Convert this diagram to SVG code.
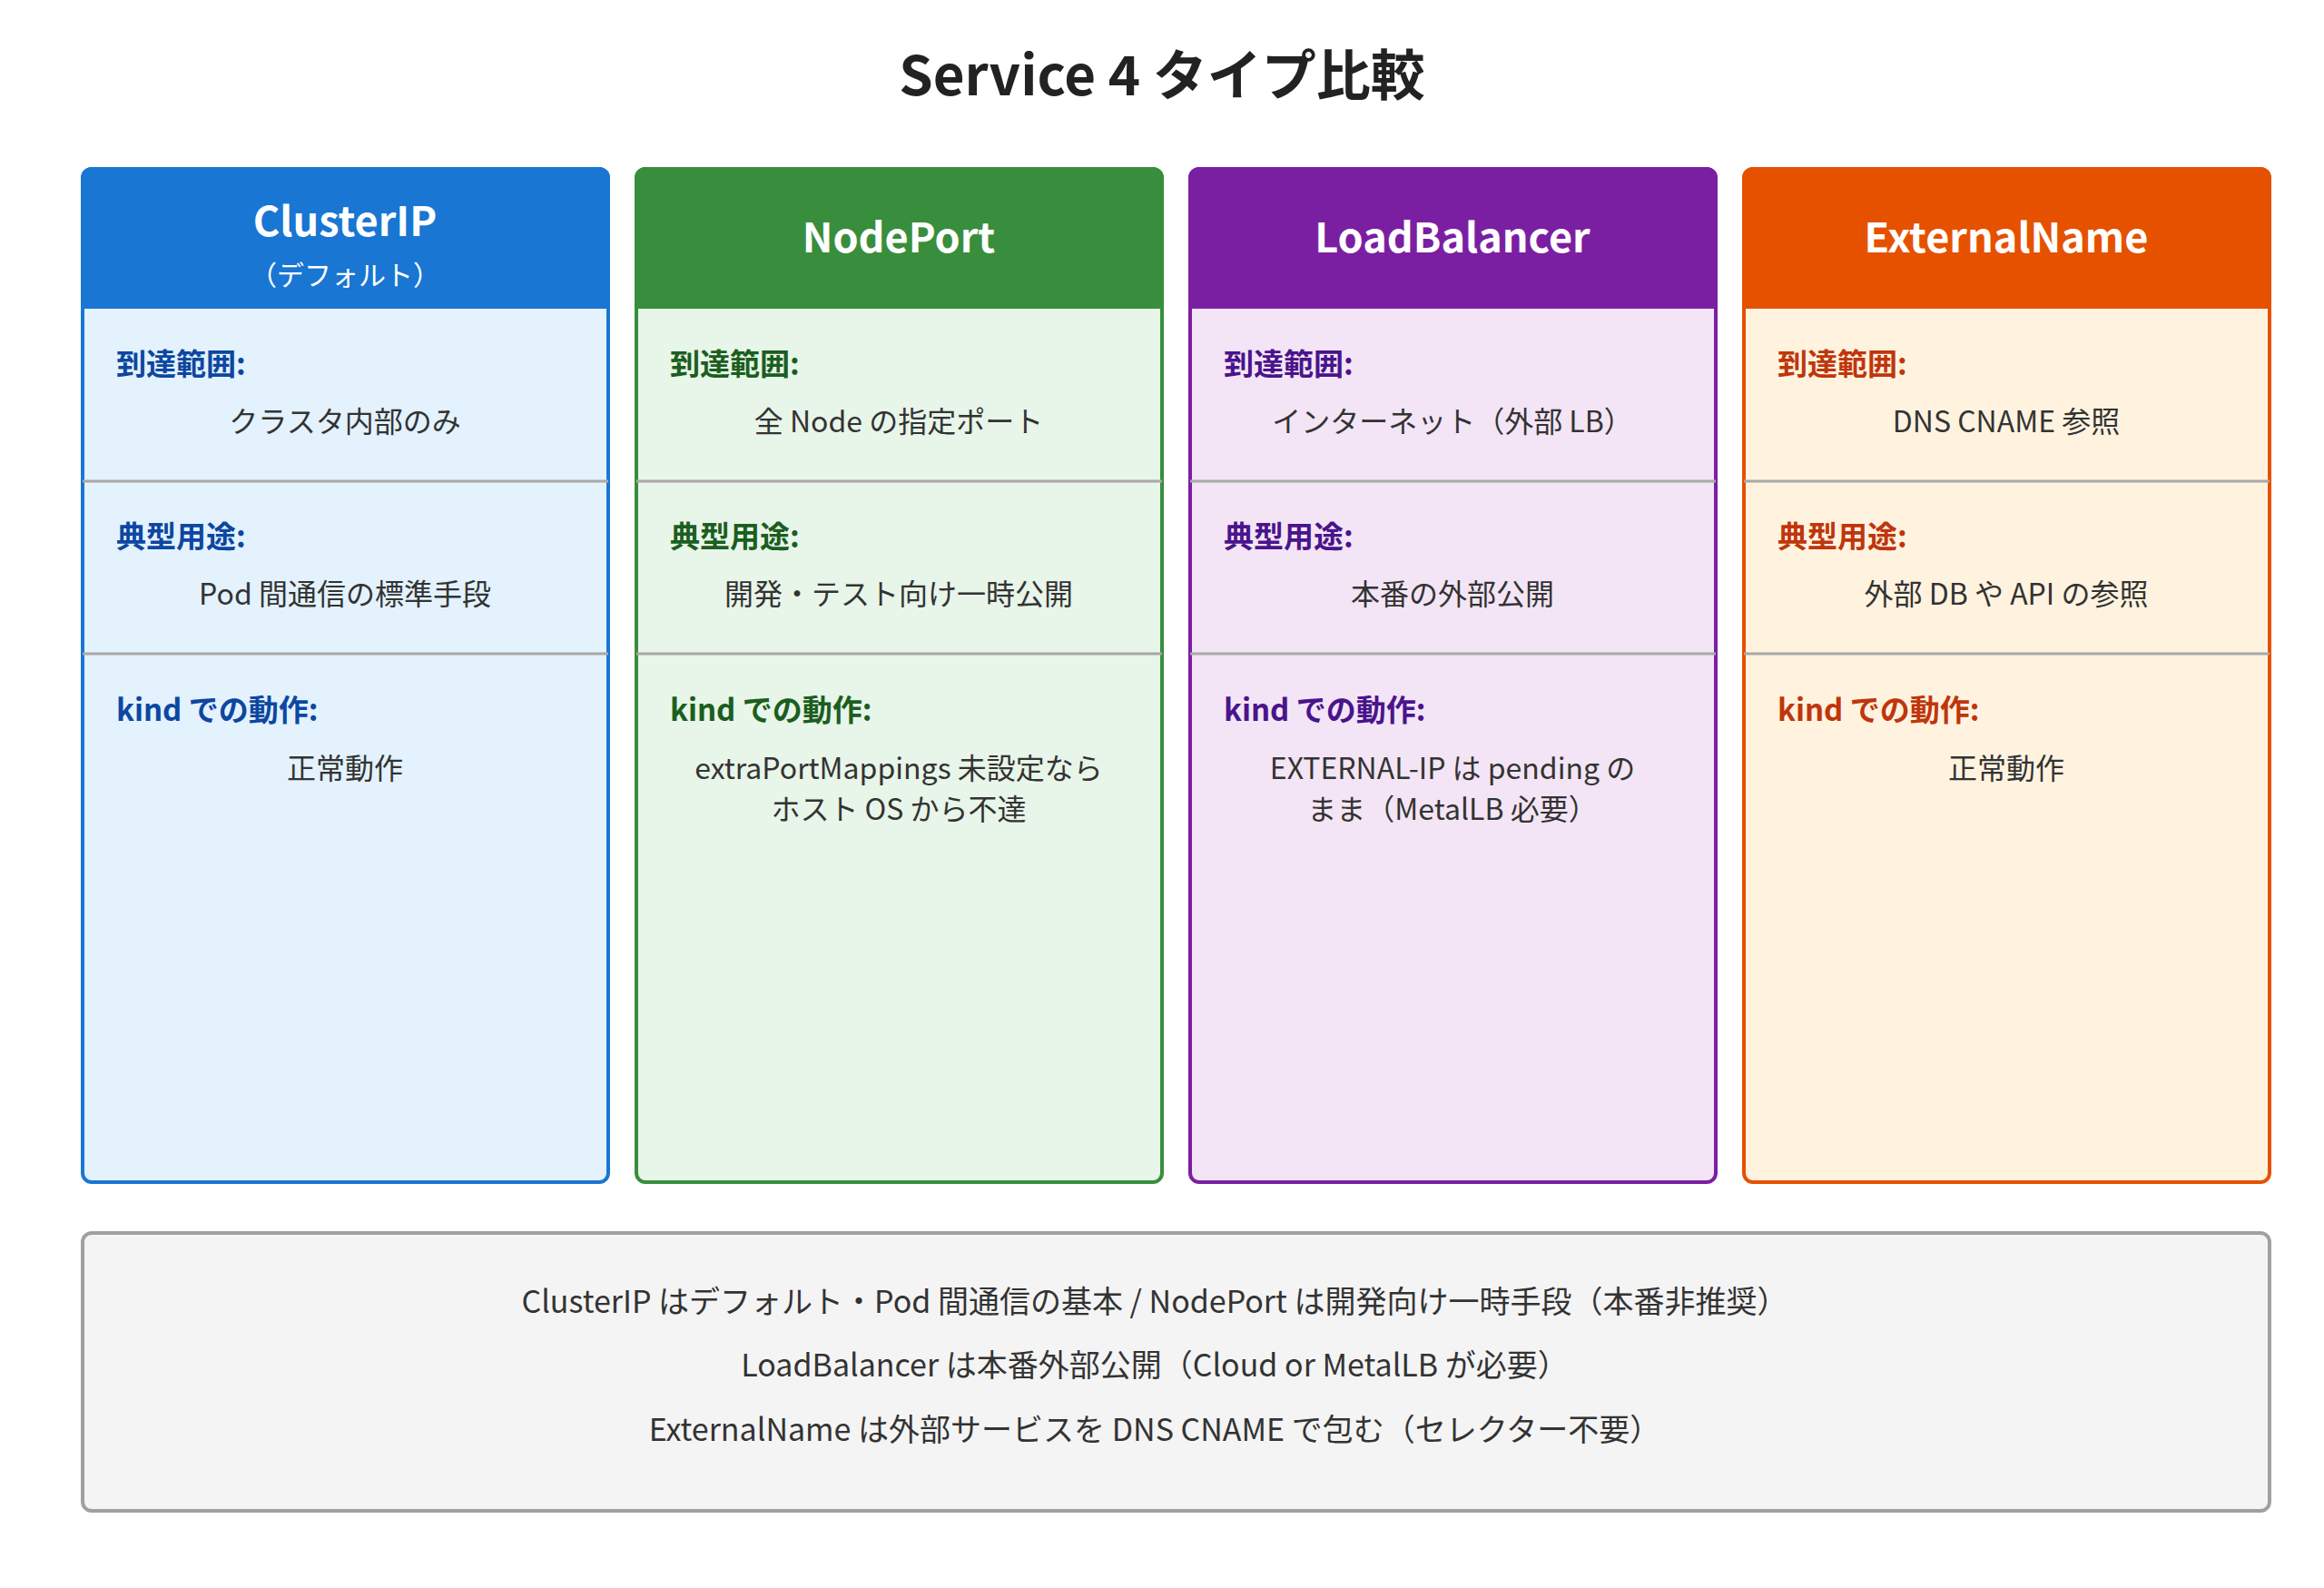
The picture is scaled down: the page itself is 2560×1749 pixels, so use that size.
<svg xmlns="http://www.w3.org/2000/svg" width="2560" height="1749" viewBox="0 0 2560 1749">
<style>
text{font-family:"Noto Sans CJK JP","Noto Sans",sans-serif;}
.title{font-size:60px;font-weight:bold;fill:#222;text-anchor:middle}
.hd{font-size:45px;font-weight:bold;fill:#fff;text-anchor:middle}
.sub{font-size:30px;fill:#fff;text-anchor:middle}
.lb{font-size:33px;font-weight:bold}
.v{font-size:32px;fill:#333;text-anchor:middle}
.sm{font-size:34px;fill:#333;text-anchor:middle}
.dv{stroke:#a8a8a8;stroke-width:3}
</style>
<rect width="2560" height="1749" fill="#fff"/>
<text class="title" x="1280" y="105">Service 4 タイプ比較</text>

<g id="clusterip">
<rect x="91" y="186" width="579" height="1116" rx="10" fill="#E3F2FD" stroke="#1976D2" stroke-width="4"/>
<path d="M89 340 V196 a12 12 0 0 1 12 -12 H660 a12 12 0 0 1 12 12 V340 Z" fill="#1976D2"/>
<text class="hd" x="380" y="260">ClusterIP</text>
<text class="sub" x="380" y="314">（デフォルト）</text>
<line class="dv" x1="91" y1="530" x2="670" y2="530"/><line class="dv" x1="91" y1="720" x2="670" y2="720"/>
<g fill="#0D47A1"><text class="lb" x="128" y="413">到達範囲:</text><text class="lb" x="128" y="603">典型用途:</text><text class="lb" x="128" y="794">kind での動作:</text></g>
<text class="v" x="380" y="476">クラスタ内部のみ</text>
<text class="v" x="380" y="666">Pod 間通信の標準手段</text>
<text class="v" x="380" y="858">正常動作</text>
</g>

<g id="nodeport">
<rect x="701" y="186" width="579" height="1116" rx="10" fill="#E8F5E9" stroke="#388E3C" stroke-width="4"/>
<path d="M699 340 V196 a12 12 0 0 1 12 -12 H1270 a12 12 0 0 1 12 12 V340 Z" fill="#388E3C"/>
<text class="hd" x="990" y="278">NodePort</text>
<line class="dv" x1="701" y1="530" x2="1280" y2="530"/><line class="dv" x1="701" y1="720" x2="1280" y2="720"/>
<g fill="#1B5E20"><text class="lb" x="738" y="413">到達範囲:</text><text class="lb" x="738" y="603">典型用途:</text><text class="lb" x="738" y="794">kind での動作:</text></g>
<text class="v" x="990" y="476">全 Node の指定ポート</text>
<text class="v" x="990" y="666">開発・テスト向け一時公開</text>
<text class="v" x="990" y="858">extraPortMappings 未設定なら</text>
<text class="v" x="990" y="903">ホスト OS から不達</text>
</g>

<g id="loadbalancer">
<rect x="1311" y="186" width="579" height="1116" rx="10" fill="#F3E5F5" stroke="#7B1FA2" stroke-width="4"/>
<path d="M1309 340 V196 a12 12 0 0 1 12 -12 H1880 a12 12 0 0 1 12 12 V340 Z" fill="#7B1FA2"/>
<text class="hd" x="1600" y="278">LoadBalancer</text>
<line class="dv" x1="1311" y1="530" x2="1890" y2="530"/><line class="dv" x1="1311" y1="720" x2="1890" y2="720"/>
<g fill="#4A148C"><text class="lb" x="1348" y="413">到達範囲:</text><text class="lb" x="1348" y="603">典型用途:</text><text class="lb" x="1348" y="794">kind での動作:</text></g>
<text class="v" x="1600" y="476">インターネット（外部 LB）</text>
<text class="v" x="1600" y="666">本番の外部公開</text>
<text class="v" x="1600" y="858">EXTERNAL-IP は pending の</text>
<text class="v" x="1600" y="903">まま（MetalLB 必要）</text>
</g>

<g id="externalname">
<rect x="1921" y="186" width="579" height="1116" rx="10" fill="#FFF3E0" stroke="#E65100" stroke-width="4"/>
<path d="M1919 340 V196 a12 12 0 0 1 12 -12 H2490 a12 12 0 0 1 12 12 V340 Z" fill="#E65100"/>
<text class="hd" x="2210" y="278">ExternalName</text>
<line class="dv" x1="1921" y1="530" x2="2500" y2="530"/><line class="dv" x1="1921" y1="720" x2="2500" y2="720"/>
<g fill="#BF360C"><text class="lb" x="1958" y="413">到達範囲:</text><text class="lb" x="1958" y="603">典型用途:</text><text class="lb" x="1958" y="794">kind での動作:</text></g>
<text class="v" x="2210" y="476">DNS CNAME 参照</text>
<text class="v" x="2210" y="666">外部 DB や API の参照</text>
<text class="v" x="2210" y="858">正常動作</text>
</g>

<g id="summary">
<rect x="91" y="1358" width="2409" height="306" rx="10" fill="#F4F4F4" stroke="#A0A0A0" stroke-width="4"/>
<text class="sm" x="1272" y="1446">ClusterIP はデフォルト・Pod 間通信の基本 / NodePort は開発向け一時手段（本番非推奨）</text>
<text class="sm" x="1272" y="1516">LoadBalancer は本番外部公開（Cloud or MetalLB が必要）</text>
<text class="sm" x="1272" y="1587">ExternalName は外部サービスを DNS CNAME で包む（セレクター不要）</text>
</g>
<g id="connectors"/>
</svg>
